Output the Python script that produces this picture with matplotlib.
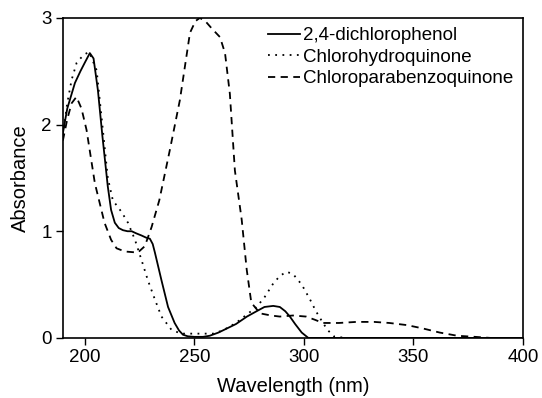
import matplotlib
matplotlib.use("Agg")
import matplotlib.pyplot as plt

plt.rcParams['font.family'] = ['Liberation Sans', 'DejaVu Sans']

# 2,4-dichlorophenol (solid)
dcp_x = [190, 192, 195.5, 198, 200, 202.3, 204, 206, 208, 210.5, 212, 213.7, 215.5, 217.4, 219.5, 221.4, 223.5, 225.9, 228, 229.7,
         231, 232, 235, 238, 241, 243, 244.8, 247, 250, 254, 257, 261, 265, 269, 274, 278.4, 282, 286, 289, 291.5, 293.6, 296, 299, 302, 310, 400]
dcp_y = [1.92, 2.15, 2.39, 2.5, 2.58, 2.67, 2.62, 2.32, 1.9, 1.42, 1.2, 1.08, 1.03, 1.01, 1.0, 1.0, 0.98, 0.96, 0.94, 0.93,
         0.88, 0.80, 0.54, 0.29, 0.14, 0.07, 0.03, 0.015, 0.01, 0.01, 0.02, 0.05, 0.09, 0.13, 0.2, 0.25, 0.29, 0.30, 0.29, 0.25, 0.20, 0.13, 0.05, 0.0, 0.0, 0.0]

# Chlorohydroquinone (dotted)
chq_x = [190, 192, 194, 196.3, 198, 200, 202, 205.4, 208, 210.5, 212.8, 216.8, 219.7, 222.9, 225.9, 228.8, 232, 235, 239.6, 244,
         248, 253, 258.5, 263, 269, 274, 278.4, 282, 286, 289, 292, 295, 299, 302.8, 305.5, 308.7, 311, 314, 320, 400]
chq_y = [1.9, 2.2, 2.42, 2.58, 2.62, 2.66, 2.68, 2.51, 2.0, 1.5, 1.29, 1.18, 1.08, 0.92, 0.73, 0.54, 0.36, 0.20, 0.075, 0.04,
         0.04, 0.04, 0.04, 0.07, 0.14, 0.22, 0.29, 0.38, 0.51, 0.58, 0.62, 0.60, 0.50, 0.36, 0.25, 0.14, 0.07, 0.01, 0.0, 0.0]

# Chloroparabenzoquinone (dashed)
cpbq_x = [190, 192, 194, 196.2, 198.5, 200.8, 204.6, 209, 212, 214.5, 218.3, 224.2, 227.4, 230.5, 234, 238.8, 243.4, 248, 250.5, 252.5,
          255, 258, 261.7, 264, 266.2, 268.5, 271.6, 273.9, 276, 280, 285, 289, 295, 301, 305, 308.7, 316, 324, 332, 339, 347, 354, 362, 370, 378, 385, 400]
cpbq_y = [1.85, 2.05, 2.2, 2.26, 2.15, 1.95, 1.45, 1.08, 0.92, 0.84, 0.81, 0.80, 0.86, 1.04, 1.29, 1.76, 2.23, 2.86, 2.97, 3.0,
          2.97, 2.9, 2.82, 2.67, 2.29, 1.57, 1.11, 0.64, 0.33, 0.23, 0.21, 0.20, 0.21, 0.20, 0.17, 0.14, 0.14, 0.15, 0.15, 0.14, 0.12, 0.09, 0.05, 0.02, 0.01, 0.0, 0.0]

series_labels = ["2,4-dichlorophenol", "Chlorohydroquinone", "Chloroparabenzoquinone"]
x_ticks = [200, 250, 300, 350, 400]
y_ticks = [0, 1, 2, 3]

fig = plt.figure(figsize=(5.42, 3.98), dpi=100)
ax = fig.add_axes([0.116, 0.151, 0.849, 0.804])

ax.plot(dcp_x, dcp_y, color='black', lw=1.3, ls='-', label=series_labels[0])
ax.plot(chq_x, chq_y, color='black', lw=1.3, ls=(0, (1, 3)), label=series_labels[1])
ax.plot(cpbq_x, cpbq_y, color='black', lw=1.3, ls=(0, (4, 3)), label=series_labels[2])

ax.set_xlim(190, 400)
ax.set_ylim(0, 3)
ax.set_xticks(x_ticks)
ax.set_yticks(y_ticks)
ax.tick_params(direction='out', length=5, width=1, labelsize=13.5, pad=3)
for s in ax.spines.values():
    s.set_linewidth(1.2)

ax.set_xlabel("Wavelength (nm)", fontsize=14.5, labelpad=8)
ax.set_ylabel("Absorbance", fontsize=14.5, labelpad=8)

ax.legend(loc='upper right', frameon=False, fontsize=13.5, handlelength=1.7,
          handletextpad=0.2, labelspacing=0.23, borderaxespad=0.2,
          borderpad=0.3, bbox_to_anchor=(1.0, 1.0))

fig.savefig("out.png", dpi=100)
